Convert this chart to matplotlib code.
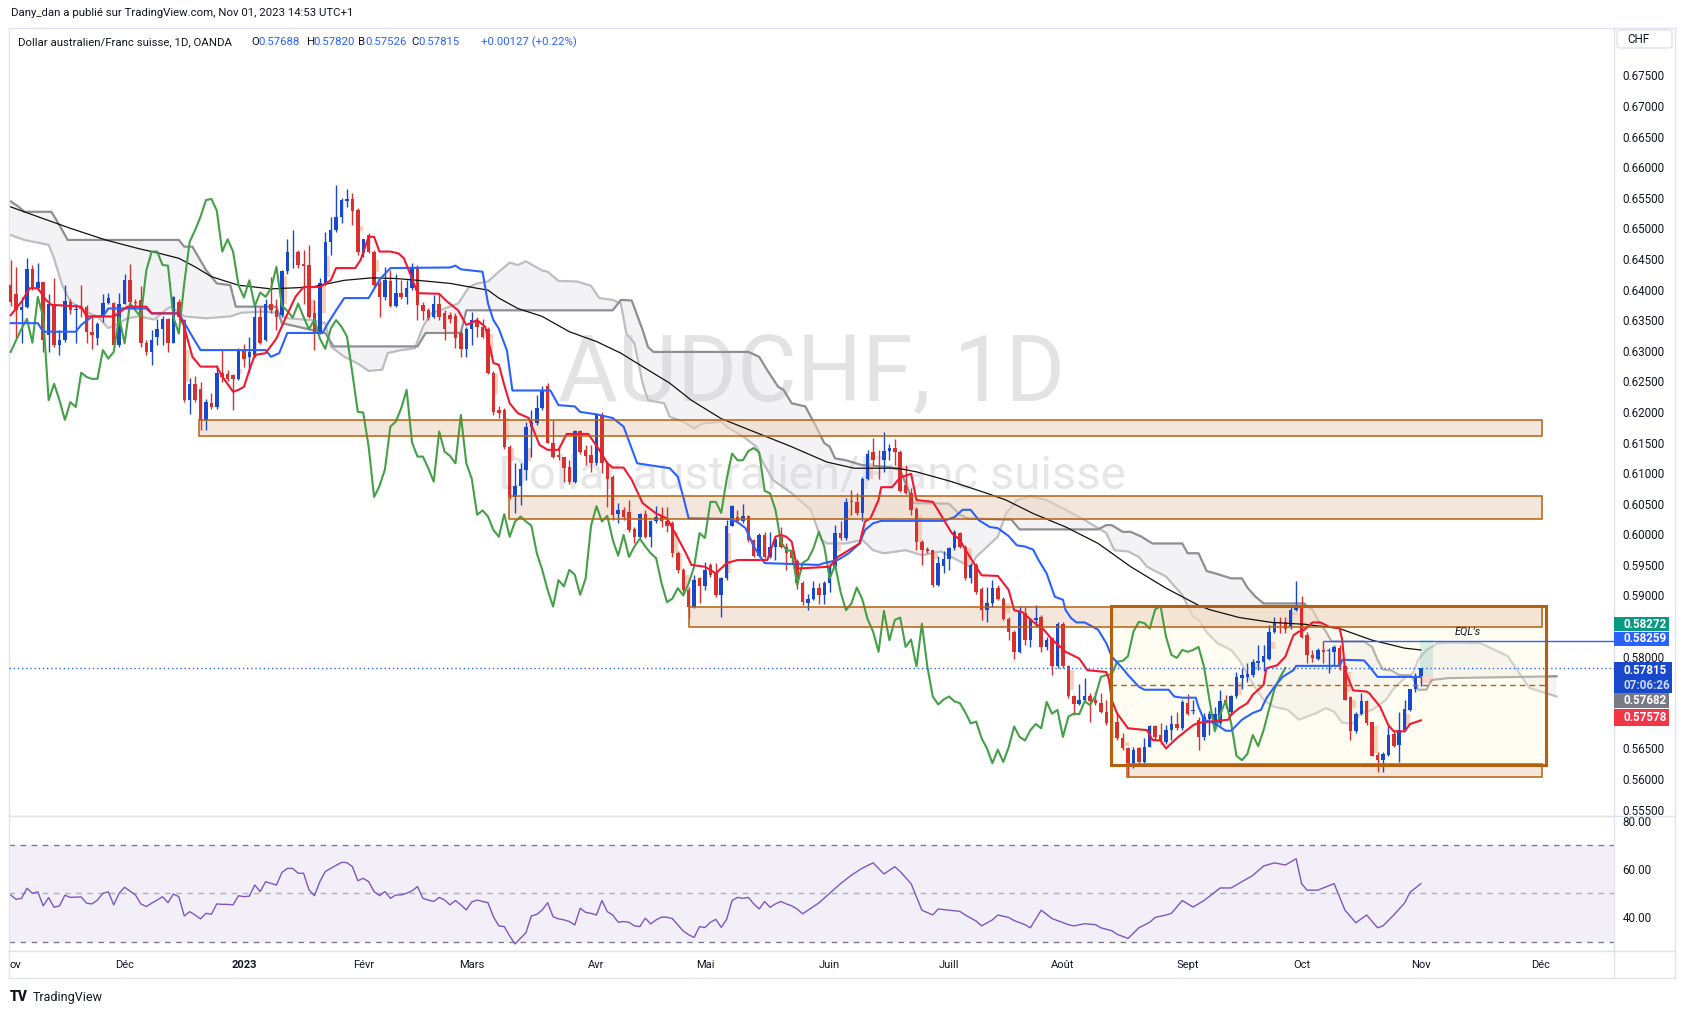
import matplotlib
matplotlib.use("Agg")
import matplotlib.pyplot as plt
from matplotlib.patches import Rectangle, FancyBboxPatch
from matplotlib.lines import Line2D
import numpy as np
import pandas as pd

W, H = 1687, 1015
plt.rcParams['font.family'] = ['Roboto', 'DejaVu Sans']

# ---- daily candles, 2 Nov 2022 .. 1 Nov 2023 (OANDA AUDCHF) ----
opens = [
    .6407, .6392, .6366, .6372, .6433, .6402, .6412, .6325, .6376, .6309,
    .6318, .6379, .6367, .6370, .6371, .6331, .6320, .6355, .6378, .6378,
    .6309, .6377, .6415, .6380, .6383, .6312, .6298, .6323, .6335, .6352,
    .6313, .6380, .6350, .6219, .6245, .6237, .6187, .6215, .6208, .6264,
    .6262, .6260, .6254, .6301, .6290, .6293, .6355, .6317, .6377, .6367,
    .6358, .6431, .6461, .6462, .6441, .6440, .6361, .6328, .6410, .6478,
    .6497, .6519, .6545, .6548, .6530, .6460, .6489, .6462, .6410, .6387,
    .6414, .6373, .6395, .6388, .6402, .6437, .6375, .6366, .6355, .6377,
    .6361, .6358, .6357, .6329, .6303, .6336, .6349, .6339, .6336, .6263,
    .6203, .6203, .6143, .6061, .6079, .6105, .6176, .6182, .6206, .6242,
    .6150, .6130, .6126, .6110, .6086, .6168, .6137, .6130, .6116, .6195,
    .6117, .6094, .6033, .6039, .6037, .6008, .5996, .6033, .5996, .6021,
    .6029, .6021, .6018, .5969, .5942, .5909, .5882, .5928, .5915, .5950,
    .5936, .5901, .5928, .6014, .6029, .6021, .6030, .5991, .5965, .5999,
    .5963, .5980, .5996, .5980, .5972, .5957, .5920, .5887, .5895, .5912,
    .5900, .5920, .5947, .6002, .5994, .6055, .6052, .6035, .6090, .6135,
    .6122, .6121, .6136, .6141, .6134, .6080, .6067, .6042, .5988, .5976,
    .5974, .5917, .5949, .5959, .5977, .6002, .5980, .5928, .5950, .5911,
    .5876, .5887, .5913, .5894, .5861, .5841, .5808, .5872, .5827, .5860,
    .5865, .5816, .5830, .5784, .5853, .5784, .5736, .5722, .5730, .5736,
    .5729, .5724, .5709, .5691, .5694, .5667, .5650, .5626, .5650, .5628,
    .5652, .5686, .5672, .5661, .5680, .5690, .5683, .5725, .5711, .5697,
    .5669, .5698, .5689, .5691, .5729, .5710, .5735, .5765, .5767, .5770,
    .5789, .5792, .5797, .5841, .5857, .5857, .5849, .5876, .5884, .5835,
    .5803, .5797, .5811, .5810, .5808, .5815, .5784, .5734, .5678, .5706,
    .5728, .5693, .5639, .5631, .5639, .5674, .5656, .5680, .5713, .5747,
    .57688]
highs = [
    .6448, .6436, .6388, .6452, .6440, .6444, .6413, .6393, .6418, .6334,
    .6407, .6385, .6377, .6407, .6374, .6355, .6347, .6393, .6394, .6380,
    .6394, .6425, .6441, .6385, .6405, .6317, .6334, .6352, .6357, .6354,
    .6389, .6385, .6352, .6255, .6259, .6249, .6221, .6231, .6276, .6301,
    .6268, .6262, .6304, .6311, .6323, .6374, .6372, .6385, .6420, .6385,
    .6432, .6482, .6497, .6465, .6465, .6473, .6383, .6419, .6494, .6519,
    .6571, .6549, .6565, .6558, .6533, .6483, .6492, .6465, .6415, .6437,
    .6432, .6425, .6415, .6415, .6443, .6440, .6380, .6369, .6391, .6393,
    .6366, .6364, .6361, .6334, .6339, .6363, .6355, .6352, .6339, .6267,
    .6210, .6206, .6146, .6116, .6116, .6184, .6203, .6228, .6242, .6247,
    .6187, .6142, .6127, .6121, .6170, .6170, .6146, .6146, .6198, .6200,
    .6119, .6097, .6051, .6045, .6056, .6012, .6035, .6040, .6024, .6047,
    .6045, .6045, .6021, .5972, .5945, .5914, .5934, .5931, .5955, .5953,
    .5953, .5931, .6024, .6048, .6040, .6049, .6032, .5993, .6002, .6003,
    .6004, .5996, .6012, .5985, .5974, .5959, .5923, .5903, .5924, .5921,
    .5923, .5953, .6015, .6021, .6059, .6073, .6067, .6094, .6138, .6157,
    .6138, .6167, .6148, .6155, .6138, .6113, .6075, .6045, .5991, .5980,
    .5975, .5964, .5972, .5980, .6007, .6004, .5983, .5953, .5953, .5914,
    .5914, .5925, .5917, .5898, .5865, .5844, .5883, .5882, .5863, .5884,
    .5868, .5833, .5833, .5857, .5856, .5786, .5737, .5756, .5765, .5740,
    .5743, .5740, .5729, .5707, .5710, .5675, .5653, .5653, .5653, .5667,
    .5688, .5688, .5691, .5688, .5705, .5710, .5729, .5739, .5729, .5702,
    .5708, .5712, .5718, .5746, .5737, .5737, .5775, .5781, .5789, .5797,
    .5819, .5819, .5852, .5865, .5865, .5865, .5882, .5923, .5899, .5841,
    .5811, .5814, .5825, .5814, .5819, .5819, .5786, .5736, .5709, .5740,
    .5729, .5694, .5645, .5645, .5686, .5680, .5710, .5729, .5748, .5773,
    .57820]
lows = [
    .6373, .6320, .6312, .6369, .6399, .6399, .6298, .6298, .6306, .6293,
    .6315, .6360, .6312, .6355, .6312, .6303, .6309, .6347, .6377, .6307,
    .6306, .6376, .6377, .6370, .6306, .6293, .6277, .6309, .6309, .6298,
    .6312, .6350, .6216, .6197, .6216, .6170, .6170, .6205, .6205, .6249,
    .6250, .6203, .6252, .6274, .6263, .6290, .6311, .6316, .6361, .6334,
    .6355, .6426, .6435, .6435, .6377, .6353, .6301, .6327, .6407, .6456,
    .6494, .6508, .6535, .6505, .6456, .6453, .6459, .6404, .6355, .6383,
    .6371, .6372, .6385, .6377, .6399, .6350, .6350, .6350, .6353, .6350,
    .6317, .6345, .6305, .6290, .6289, .6309, .6322, .6320, .6262, .6195,
    .6190, .6140, .6058, .6034, .6048, .6089, .6127, .6179, .6203, .6149,
    .6124, .6121, .6086, .6083, .6084, .6132, .6113, .6102, .6113, .6100,
    .6045, .6023, .6019, .6023, .6004, .5985, .5994, .5994, .5980, .6018,
    .6012, .6004, .5963, .5936, .5904, .5863, .5879, .5887, .5909, .5931,
    .5898, .5865, .5926, .6013, .6018, .6019, .5988, .5963, .5963, .5962,
    .5961, .5958, .5977, .5941, .5952, .5910, .5884, .5877, .5893, .5886,
    .5886, .5906, .5944, .5991, .5991, .6032, .6032, .6021, .6089, .6113,
    .6091, .6102, .6121, .6113, .6069, .6066, .6032, .5974, .5950, .5969,
    .5914, .5915, .5936, .5942, .5974, .5977, .5925, .5920, .5903, .5860,
    .5857, .5882, .5893, .5860, .5827, .5797, .5806, .5819, .5816, .5849,
    .5808, .5811, .5770, .5781, .5781, .5732, .5705, .5721, .5727, .5694,
    .5721, .5708, .5688, .5667, .5664, .5648, .5604, .5618, .5624, .5626,
    .5652, .5664, .5658, .5658, .5664, .5680, .5680, .5705, .5707, .5648,
    .5664, .5672, .5686, .5688, .5716, .5707, .5732, .5748, .5759, .5767,
    .5778, .5776, .5795, .5838, .5838, .5838, .5846, .5874, .5830, .5789,
    .5792, .5795, .5789, .5773, .5786, .5778, .5729, .5664, .5676, .5705,
    .5688, .5637, .5612, .5612, .5638, .5653, .5628, .5679, .5712, .5743,
    .57526]
closes = [
    .6380, .6366, .6372, .6433, .6402, .6412, .6317, .6376, .6309, .6318,
    .6381, .6366, .6368, .6368, .6330, .6326, .6344, .6378, .6386, .6309,
    .6377, .6415, .6380, .6378, .6312, .6298, .6317, .6336, .6352, .6313,
    .6388, .6355, .6219, .6246, .6219, .6187, .6216, .6208, .6264, .6257,
    .6254, .6254, .6301, .6287, .6298, .6355, .6312, .6377, .6366, .6355,
    .6431, .6462, .6462, .6440, .6439, .6355, .6328, .6410, .6478, .6497,
    .6519, .6546, .6548, .6529, .6462, .6482, .6462, .6407, .6387, .6415,
    .6373, .6395, .6388, .6402, .6437, .6374, .6365, .6354, .6377, .6355,
    .6335, .6351, .6320, .6303, .6336, .6350, .6339, .6323, .6263, .6200,
    .6199, .6143, .6061, .6079, .6106, .6176, .6184, .6206, .6236, .6150,
    .6127, .6127, .6108, .6086, .6168, .6135, .6128, .6116, .6195, .6116,
    .6091, .6032, .6039, .6029, .6007, .5996, .6033, .5996, .6021, .6029,
    .6021, .6014, .5969, .5942, .5909, .5882, .5925, .5915, .5942, .5934,
    .5901, .5928, .6014, .6046, .6021, .6030, .5991, .5965, .5999, .5963,
    .5980, .5993, .5980, .5969, .5961, .5920, .5889, .5895, .5912, .5900,
    .5920, .5947, .6002, .5994, .6053, .6053, .6035, .6090, .6132, .6121,
    .6121, .6136, .6141, .6134, .6071, .6067, .6040, .5988, .5974, .5973,
    .5917, .5953, .5959, .5977, .6004, .5980, .5928, .5950, .5906, .5876,
    .5887, .5913, .5894, .5861, .5841, .5808, .5875, .5827, .5860, .5864,
    .5816, .5828, .5784, .5854, .5784, .5735, .5722, .5730, .5735, .5727,
    .5724, .5709, .5691, .5694, .5667, .5650, .5626, .5648, .5628, .5652,
    .5686, .5669, .5663, .5680, .5690, .5683, .5726, .5707, .5713, .5669,
    .5702, .5707, .5706, .5727, .5721, .5736, .5767, .5770, .5771, .5792,
    .5793, .5801, .5841, .5857, .5855, .5846, .5877, .5883, .5833, .5803,
    .5798, .5811, .5808, .5811, .5816, .5784, .5730, .5678, .5706, .5728,
    .5692, .5638, .5631, .5641, .5672, .5654, .5680, .5714, .5747, .5766,
    .57815]

# ---- indicator lines: (bar, value) ----
tenkan = [(0, .6358), (2, .6380), (3.5, .6402), (5, .6402), (6.5, .6383), (7.5, .6375), (13, .6372),
          (14, .6356), (19, .6356), (21.5, .6372), (25, .6372), (26, .6361), (31, .6361), (32, .6339),
          (33.5, .6290), (35, .6274), (38, .6274), (39, .6258), (41, .6233), (42, .6236), (43, .6241),
          (44, .6268), (45, .6293), (47, .6296), (49, .6320), (50.5, .6350), (52.5, .6388), (54, .6404),
          (57, .6404), (59, .6415), (60, .6435), (63.5, .6435), (64.5, .6448), (66, .6486), (67, .6486),
          (68, .6462), (70, .6462), (71.5, .6459), (72.5, .6451), (74, .6418), (75, .6394), (79, .6393),
          (80.5, .6380), (82.5, .6366), (84, .6342), (86, .6350), (87.5, .6339), (88, .6320), (89, .6280),
          (90, .6277), (91, .6244), (92, .6214), (93.5, .6198), (95.5, .6190), (97.5, .6146), (99, .6138),
          (101, .6138), (102.5, .6164), (106.5, .6164), (108.5, .6138), (110, .6116), (111, .6109),
          (113, .6109), (114.5, .6089), (116.5, .6051), (119, .6034), (121, .6026), (122.5, .6002),
          (124.5, .5969), (125.5, .5950), (128, .5947), (130, .5936), (132, .5953), (134, .5958),
          (139.5, .5958), (141, .5996), (142, .5999), (143, .5996), (144, .5988), (145, .5944),
          (151, .5947), (152.5, .5963), (154.5, .5974), (156.5, .5985), (157.5, .6021), (158.5, .6026),
          (160, .6056), (160.5, .6077), (162.5, .6077), (164, .6093), (166, .6099), (167, .6056),
          (170, .6053), (171, .6039), (173.5, .6002), (175, .5991), (176, .5975), (178, .5947),
          (179, .5933), (182, .5932), (184, .5909), (185, .5876), (186.5, .5873), (188.5, .5857),
          (190.5, .5844), (192, .5828), (194.5, .5808), (197, .5797), (198.5, .5778), (202, .5775),
          (202.5, .5762), (203, .5729), (204, .5707), (206, .5683), (209.5, .5680), (210.5, .5664),
          (212, .5663), (213, .5650), (215, .5667), (218, .5688), (219, .5692), (224.5, .5697),
          (225, .5705), (226.5, .5716), (228, .5724), (229, .5738), (231, .5754), (231.5, .5781),
          (233.5, .5786), (235, .5800), (236.5, .5835), (237.5, .5841), (238.5, .5844), (240, .5856),
          (241.5, .5856), (243, .5849), (245, .5847), (245.5, .5827), (246, .5778), (247.5, .5745),
          (250, .5743), (250.5, .5740), (252.5, .5718), (254, .5688), (255, .5678), (257, .5678),
          (258, .5690), (260, .5696)]
kijun = [(0, .6345), (5, .6345), (6, .6331), (12, .6331), (13, .6342), (15, .6356), (17, .6356),
         (18, .6369), (25, .6369), (26, .6361), (31, .6361), (33.5, .6323), (35, .6301), (47, .6301),
         (48, .6290), (49.5, .6296), (51, .6329), (57.5, .6329), (58.5, .6345), (60, .6366),
         (61.5, .6386), (66, .6386), (68, .6416), (70, .6435), (81, .6436), (82, .6439), (83, .6433),
         (87, .6429), (88, .6377), (89, .6350), (90, .6336), (91.5, .6300), (92.5, .6235), (99.5, .6235),
         (101, .6211), (104, .6209), (105, .6200), (108, .6196), (111, .6190), (113, .6176),
         (114.5, .6140), (115.5, .6116), (121.5, .6108), (123, .6094), (124, .6061), (125, .6026),
         (132.5, .6025), (134, .6020), (135.5, .6010), (137, .5980), (139, .5953), (149, .5950),
         (150, .5953), (152.5, .5958), (154.5, .5969), (156.5, .5985), (157.5, .6007), (159, .6018),
         (160.5, .6022), (172, .6022), (174, .6028), (175.5, .6040), (177, .6040), (178.5, .6023),
         (180.5, .6012), (182, .6010), (184, .5997), (185.5, .5982), (187, .5980), (188.5, .5975),
         (189.5, .5958), (191, .5936), (192.5, .5898), (194, .5893), (194.5, .5876), (195.5, .5863),
         (196.5, .5856), (198, .5856), (199.5, .5849), (200.5, .5844), (202, .5822), (203, .5800),
         (205, .5781), (206, .5770), (208, .5751), (209, .5746), (213.5, .5746), (214.5, .5735),
         (216, .5733), (218.5, .5733), (219, .5718), (220, .5697), (222, .5691), (224, .5679),
         (225, .5679), (227, .5697), (229, .5708), (230.5, .5713), (231.5, .5732), (233, .5751),
         (234.5, .5767), (236.5, .5778), (237, .5785), (245, .5785), (245.5, .5795), (249.5, .5794),
         (250.5, .5784), (252, .5767), (260, .5767)]
sma200 = [(0, .6535), (5, .6519), (11, .6500), (17.5, .6481), (23.5, .6467), (27, .6460), (31, .6451),
          (34, .6437), (37, .6421), (42, .6407), (48, .6401), (55.5, .6404), (61.5, .6415), (66.5, .6419),
          (71, .6418), (75, .6415), (81, .6410), (86, .6402), (88, .6399), (90, .6386), (93.5, .6369),
          (98, .6356), (103, .6331), (108, .6315), (112.5, .6296), (116.5, .6274), (121.5, .6247),
          (125.5, .6219), (131, .6189), (137.5, .6166), (144, .6143), (150.5, .6118), (155.5, .6108),
          (163.5, .6108), (167, .6102), (173.5, .6086), (180, .6067), (183.5, .6056), (188.5, .6034),
          (194.5, .6012), (200.5, .5985), (206.5, .5947), (213, .5912), (219, .5884), (221, .5877),
          (226.5, .5864), (232.5, .5856), (238.5, .5853), (245, .5846), (251, .5827), (257, .5814),
          (260, .5811)]
span_a = [(0, .6489), (2.5, .6481), (7, .6473), (8, .6451), (9.5, .6407), (11, .6380), (14.5, .6361),
          (16, .6356), (18, .6337), (20, .6345), (21.5, .6353), (23.5, .6356), (26.5, .6351), (28.5, .6366),
          (29.5, .6372), (32, .6356), (36, .6353), (40.5, .6356), (42.5, .6362), (47, .6364), (49.5, .6361),
          (51, .6353), (55.5, .6350), (58, .6345), (59, .6307), (61.5, .6290), (64, .6279), (66, .6267),
          (68.5, .6269), (69.5, .6296), (72, .6301), (74.5, .6304), (76, .6339), (77.5, .6361),
          (82.5, .6377), (84.5, .6404), (86, .6410), (88, .6413), (90, .6429), (92, .6444), (93.5, .6440),
          (95, .6446), (98, .6431), (99, .6429), (101, .6414), (104.5, .6413), (107, .6406),
          (108.5, .6386), (111, .6383), (112.5, .6377), (113.5, .6328), (115, .6312), (116.5, .6247),
          (117.5, .6219), (120.5, .6214), (121.5, .6192), (124, .6184), (126, .6173), (127.5, .6181),
          (131, .6184), (132, .6176), (135, .6160), (137.5, .6143), (138.5, .6121), (140.5, .6089),
          (144, .6067), (147.5, .6040), (149.5, .5991), (150.5, .5985), (154, .5985), (157, .5991),
          (159, .5974), (161, .5969), (165, .5974), (168, .5966), (171.5, .5972), (174.5, .5958),
          (177, .5947), (178, .5963), (182, .5996), (183.5, .6034), (185.5, .6056), (188, .6062),
          (191, .6056), (194.5, .6040), (197.5, .6026), (202, .6002), (203.5, .5974), (206, .5972),
          (208, .5963), (209.5, .5947), (213, .5931), (216, .5901), (218, .5865), (219, .5860),
          (220.5, .5840), (222.5, .5822), (225, .5811), (226.5, .5795), (229, .5756), (231, .5729),
          (233, .5718), (235.5, .5713), (237.5, .5697), (240.5, .5707), (242.5, .5716), (244, .5710),
          (245.5, .5692), (247.5, .5691), (249, .5708), (251, .5713), (253.5, .5729), (255, .5748),
          (257, .5765), (258.5, .5773), (259.5, .5795), (261, .5811), (262, .5816), (263, .5822),
          (266, .5823), (271, .5822), (276, .5801), (280, .5749), (285, .5735)]
span_b = [(0, .6544), (1.5, .6535), (2.5, .6527), (7.5, .6527), (9, .6505), (10.5, .6481), (31, .6481),
          (32, .6470), (33.5, .6470), (36, .6432), (38, .6410), (40.5, .6407), (41.5, .6372), (49, .6372),
          (50, .6345), (58, .6329), (59.5, .6307), (75, .6307), (76.5, .6329), (83, .6329), (84, .6366),
          (111, .6366), (112.5, .6383), (114.5, .6382), (116.5, .6334), (117.5, .6306), (118.5, .6298),
          (136, .6298), (138, .6290), (139.5, .6268), (141.5, .6241), (142.5, .6236), (144, .6214),
          (146.5, .6209), (148.5, .6176), (150, .6149), (151, .6143), (152, .6124), (154, .6121),
          (157, .6113), (162, .6110), (164, .6105), (165, .6083), (166.5, .6051), (173, .6050),
          (175, .6032), (176.5, .6026), (184.5, .6024), (186, .6008), (200.5, .6008), (202, .6015),
          (203, .6015), (205, .6004), (206.5, .6004), (208.5, .5996), (210.5, .5985), (216, .5985),
          (217, .5969), (219, .5969), (220.5, .5940), (222.5, .5935), (225, .5928), (227, .5928),
          (228, .5913), (229.5, .5898), (231, .5887), (238.5, .5887), (239, .5882), (240, .5877),
          (241, .5860), (242.5, .5841), (243.5, .5825), (249.5, .5825), (251, .5816), (252, .5795),
          (253, .5779), (254.5, .5778), (256, .5770), (258, .5770), (258.5, .5765), (259.5, .5746),
          (261, .5746), (262, .5762), (265, .5765), (285, .5768)]
chikou_shift = 25

# RSI(14)
rsi = [(0, 49.3), (1, 47.5), (2, 47.9), (3, 52.1), (4, 50.0), (5, 50.6), (6, 44.8), (7, 48.2), (8, 44.2),
       (9, 44.8), (10, 49.2), (11, 48.3), (13, 48.5), (14, 45.9), (15, 45.6), (16, 47.2), (17, 50.0),
       (18, 50.6), (19, 45.2), (20, 50.0), (21, 52.5), (23, 49.3), (24, 45.6), (25, 44.5), (26, 45.9),
       (27, 47.2), (28, 48.6), (29, 46.1), (30, 49.7), (31, 48.6), (32, 40.6), (33, 42.4), (34, 41.0),
       (35, 39.4), (36, 41.7), (37, 41.3), (38, 45.6), (39, 45.4), (40, 45.4), (41, 45.2), (42, 49.0),
       (43, 48.6), (44, 48.8), (45, 53.4), (46, 50.7), (47, 54.8), (48, 54.1), (49, 53.4), (50, 58.6),
       (51, 60.3), (52, 60.3), (53, 58.3), (54, 58.3), (55, 51.4), (56, 49.0), (57, 54.8), (58, 59.0),
       (59, 60.3), (61, 62.8), (62, 62.7), (63, 61.0), (64, 55.2), (65, 56.2), (66, 54.8), (67, 50.7),
       (68, 49.0), (69, 50.7), (70, 47.9), (71, 49.3), (72, 49.3), (73, 50.0), (74, 51.0), (75, 52.8),
       (76, 47.9), (77, 47.2), (78, 46.6), (79, 48.3), (80, 47.2), (81, 45.2), (82, 47.0), (83, 45.2),
       (84, 43.1), (85, 46.4), (86, 47.2), (87, 46.6), (88, 46.1), (89, 40.3), (90, 36.5), (91, 36.2),
       (92, 32.3), (93, 29.0), (94, 31.4), (95, 33.7), (96, 40.6), (97, 41.3), (98, 43.1), (99, 46.1),
       (100, 40.3), (101, 39.4), (102, 39.0), (103, 38.3), (104, 36.9), (105, 43.8), (106, 42.1),
       (107, 41.7), (108, 41.0), (109, 47.0), (110, 42.4), (111, 41.0), (112, 38.0), (113, 38.3),
       (114, 38.0), (115, 36.5), (116, 36.2), (117, 39.7), (118, 37.3), (119, 39.0), (120, 40.1),
       (121, 40.1), (122, 39.5), (123, 36.9), (124, 34.4), (125, 32.8), (126, 31.7), (127, 36.2),
       (128, 35.8), (129, 38.0), (130, 39.2), (131, 35.9), (132, 39.2), (133, 47.0), (134, 48.3),
       (135, 47.9), (136, 48.3), (137, 45.6), (138, 43.5), (139, 46.6), (140, 44.2), (141, 45.6),
       (142, 46.6), (143, 45.6), (144, 44.8), (145, 43.5), (146, 41.5), (149, 46.0), (151, 50.0),
       (153, 54.0), (155, 57.5), (157, 60.4), (159, 62.6), (161, 58.0), (163, 61.0), (164, 59.0),
       (166, 54.0), (168, 43.0), (170, 41.0), (171, 43.5), (173, 43.0), (175, 42.5), (176, 41.0),
       (178, 38.5), (179, 36.5), (181, 39.0), (182, 41.0), (184, 40.0), (185, 38.7), (187, 37.0),
       (188, 35.7), (190, 43.0), (192, 39.5), (193, 38.7), (195, 37.0), (196, 36.5), (198, 37.4),
       (200, 37.0), (201, 35.7), (203, 34.5), (204, 33.0), (206, 31.3), (208, 35.7), (210, 38.0),
       (211, 40.0), (213, 41.0), (214, 41.7), (216, 47.0), (218, 44.3), (220, 47.0), (221, 48.7),
       (223, 52.2), (225, 52.2), (227, 54.8), (229, 57.4), (231, 61.3), (233, 62.6), (235, 61.7),
       (237, 64.3), (238, 54.0), (239, 51.3), (241, 51.3), (244, 54.0), (246, 43.0), (248, 37.8),
       (250, 41.0), (252, 35.7), (253, 36.5), (255, 41.0), (257, 46.0), (258, 50.4), (260, 54.0)]

# drawn zones: (left bar, right bar, low, high)
zones = [(34.7, 282.3, .6160, .6187), (91.9, 282.3, .6025, .6063),
         (125.0, 282.3, .5848, .5882), (205.9, 282.3, .5603, .5624)]
range_box = (202.9, 283.0, .5623, .5883)
range_mid = .5754
eql_level, eql_start = .58259, 242
# imbalance marks: (bar, low, high)
imbalances = [(32.1, .6249, .6301), (41.8, .6262, .6270), (50.1, .6377, .6422), (55.2, .6361, .6383),
              (57.3, .6362, .6410), (58.1, .6420, .6455), (64.1, .6495, .6504), (67.1, .6429, .6449),
              (88.0, .6290, .6328), (89.0, .6230, .6263), (91.1, .6154, .6190), (92.0, .6119, .6141),
              (95.1, .6119, .6141), (122.2, .5969, .6004), (123.0, .5942, .5969), (124.2, .5909, .5934),
              (132.0, .5936, .6002), (152.3, .5972, .5988), (154.1, .6023, .6042), (158.1, .6091, .6116),
              (164.3, .6105, .6112), (167.2, .5988, .6032), (170.1, .5959, .5969), (176.3, .5952, .5977),
              (183.3, .5871, .5887), (195.2, .5746, .5778), (205.4, .5654, .5661), (226.2, .5738, .5759),
              (229.3, .5781, .5788), (232.2, .5812, .5824), (236.3, .5868, .5872), (238.3, .5846, .5857),
              (238.9, .5827, .5832), (246.3, .5743, .5775), (247.1, .5716, .5729), (251.3, .5642, .5686),
              (257.1, .5688, .5706)]
# long position tool: target, entry, stop
pos_target, pos_entry, pos_stop = 0.58272, 0.57682, 0.57578
pos_span = (259.9, 262.2)
last_price = 0.57815
countdown = "07:06:26"

month_names = {2: 'Févr', 3: 'Mars', 4: 'Avr', 5: 'Mai', 6: 'Juin', 7: 'Juill',
               8: 'Août', 9: 'Sept', 10: 'Oct', 11: 'Nov', 12: 'Déc'}

UP, DOWN = '#1848cc', '#d8302f'
TXT, GRID = '#131722', '#e0e3eb'
BROWN = '#b4600f'


def fbox(x0, y0, x1, y1):
    return [x0 / W, 1 - y1 / H, (x1 - x0) / W, (y1 - y0) / H]


fig = plt.figure(figsize=(W / 100, H / 100), dpi=100)
ax = fig.add_axes(fbox(9, 28, 1614, 816))
ax_rsi = fig.add_axes(fbox(9, 816, 1614, 951))
ax_t = fig.add_axes(fbox(9, 951, 1614, 978))

xlim = (-0.31, 295.6)
for a in (ax, ax_rsi, ax_t):
    a.set_xlim(*xlim)
    a.set_xticks([])
    for s in a.spines.values():
        s.set_color(GRID)
        s.set_linewidth(1)
ax.set_ylim(0.55397, 0.68273)
ax_rsi.set_ylim(26.1, 82.0)
ax_t.set_ylim(0, 1)
ax_t.set_yticks([])

# watermark
ax.text(0.5003, 0.558, 'AUDCHF, 1D', transform=ax.transAxes, fontsize=66, color='#e3e3e6',
        ha='center', va='center', zorder=0)
ax.text(0.5003, 0.431, 'Dollar australien/Franc suisse', transform=ax.transAxes, fontsize=34,
        color='#e6e6e9', ha='center', va='center', zorder=0)

bars = np.arange(len(closes))
o, h, l, c = (np.array(v) for v in (opens, highs, lows, closes))

# ichimoku cloud
ax_, ay_ = zip(*span_a)
bx_, by_ = zip(*span_b)
ax.fill(np.r_[ax_, bx_[::-1]], np.r_[ay_, by_[::-1]], color='#c9cad6', alpha=0.22, lw=0, zorder=1)
ax.plot(ax_, ay_, color='#bdbdc2', lw=1.6, zorder=1.3)
ax.plot(bx_, by_, color='#8e8e93', lw=1.6, zorder=1.3)

# zones
for x0, x1, lo, hi in zones:
    ax.add_patch(Rectangle((x0, lo), x1 - x0, hi - lo, facecolor='#ecd3bd', alpha=0.55,
                           edgecolor='none', zorder=1.4))
    ax.add_patch(Rectangle((x0, lo), x1 - x0, hi - lo, facecolor='none', edgecolor=BROWN,
                           lw=1.1, zorder=5))
bx0, bx1, blo, bhi = range_box
ax.add_patch(Rectangle((bx0, blo), bx1 - bx0, bhi - blo, facecolor='#fff8d8', alpha=0.35,
                       edgecolor='none', zorder=1.35))
ax.add_patch(Rectangle((bx0, blo), bx1 - bx0, bhi - blo, facecolor='none', edgecolor=BROWN,
                       lw=2.2, zorder=5))
ax.hlines(range_mid, bx0, bx1, colors=BROWN, lw=1, linestyles=(0, (4, 3)), zorder=5)

for x0, lo, hi in imbalances:
    ax.add_patch(Rectangle((x0, lo), 0.85, hi - lo, facecolor='#f6c1a4', alpha=0.75,
                           edgecolor='none', zorder=1.6))

# candles
col = np.where(c >= o, UP, DOWN)
ax.vlines(bars, l, h, colors=col, lw=1, zorder=3)
ax.bar(bars, np.maximum(np.abs(c - o), 0.00004), bottom=np.minimum(o, c), width=0.64,
       color=col, lw=0, zorder=3)

# lines
ax.plot(*zip(*sma200), color='#111111', lw=0.9, zorder=4)
ax.plot(bars[chikou_shift:] - chikou_shift, c[chikou_shift:], color='#43a047', lw=1.5, zorder=4)
ax.plot(*zip(*kijun), color='#2962ff', lw=1.5, zorder=4)
ax.plot(*zip(*tenkan), color='#f2182f', lw=1.5, zorder=4.1)

# drawings
ax.hlines(eql_level, eql_start, xlim[1], colors='#2962ff', lw=1, zorder=5)
ax.text(268.7, eql_level + 0.0006, "EQL's", fontsize=7.8, style='italic', color=TXT,
        ha='center', va='bottom', zorder=6)
ax.axhline(last_price, color='#2962ff', lw=1, ls=(0, (1, 2)), zorder=5)
ax.add_patch(Rectangle((pos_span[0], pos_entry), pos_span[1] - pos_span[0], pos_target - pos_entry,
                       facecolor='#089981', alpha=0.14, edgecolor='none', zorder=5))
ax.add_patch(Rectangle((pos_span[0], pos_stop), pos_span[1] - pos_span[0], pos_entry - pos_stop,
                       facecolor='#f23645', alpha=0.14, edgecolor='none', zorder=5))

# price scale
ticks = [round(0.555 + 0.005 * k, 3) for k in range(25)]
ticks = [t for t in ticks if t not in (0.585, 0.575, 0.57)]
ax.yaxis.tick_right()
ax.set_yticks(ticks)
ax.set_yticklabels([f'{t:.5f}' for t in ticks])
ax.tick_params(axis='y', length=0, pad=6, labelsize=8.4, labelcolor=TXT)

# RSI pane
rx, ry = zip(*rsi)
ax_rsi.axhspan(30, 70, color='#7e57c2', alpha=0.09, lw=0)
for lvl, al in ((70, 1.0), (50, 0.55), (30, 1.0)):
    ax_rsi.axhline(lvl, color='#787b86', lw=1, ls=(0, (4, 4)), alpha=al)
ax_rsi.plot(rx, ry, color='#7e57c2', lw=1)
ax_rsi.yaxis.tick_right()
ax_rsi.set_yticks([40, 60, 80])
ax_rsi.set_yticklabels(['40.00', '60.00', '80.00'])
ax_rsi.tick_params(axis='y', length=0, pad=6, labelsize=8.4, labelcolor=TXT)

# time scale
days = pd.bdate_range('2022-11-01', '2023-12-29')
firsts = np.r_[True, days.month[1:] != days.month[:-1]]
for k in np.flatnonzero(firsts):
    d = days[k]
    if k == 0:
        # the November 2022 label is cut by the left edge of the chart
        ax_t.text(0.0005, 0.5, 'ov', transform=ax_t.transAxes, ha='left', va='center',
                  fontsize=8, color=TXT)
        continue
    lab = str(d.year) if d.month == 1 else month_names[d.month]
    ax_t.text(k - 1, 0.5, lab, ha='center', va='center', fontsize=8, color=TXT,
              weight='bold' if d.month == 1 else 'normal')

# frame of price scale column
for (x0, y0, x1, y1) in [(1675, 28, 1675, 978), (1614, 28, 1675, 28), (1614, 978, 1675, 978),
                         (1614, 816, 1675, 816), (1614, 951, 1675, 951)]:
    fig.add_artist(Line2D([x0 / W, x1 / W], [1 - y0 / H, 1 - y1 / H], color=GRID, lw=1))
fig.add_artist(FancyBboxPatch((1617 / W, 1 - 48 / H), 55 / W, 18 / H,
                              boxstyle='round,pad=0,rounding_size=0.002', fc='white', ec=GRID, lw=1))
fig.text(1627 / W, 1 - 39.5 / H, 'CHF', fontsize=8.4, color=TXT, va='center')

# coloured price tags
tags = [(pos_target, '#089981', 16, 14), (eql_level, '#2962ff', 2.3, 14),
        (last_price, '#1848cc', -9.5, 31), (pos_entry, '#787b86', -24.5, 15),
        (pos_stop, '#f23645', -35, 17)]
fig.canvas.draw()
for val, colr, shift, hh in tags:
    yc = ax.transData.transform((0, val))[1] + shift
    fig.add_artist(Rectangle((1614 / W, (yc - hh / 2) / H), (1672 - 1614) / W if hh > 20 else 55 / W,
                             hh / H, transform=fig.transFigure, color=colr, lw=0))
    if hh > 20:
        fig.text(1624 / W, (yc + 7) / H, f'{val:.5f}', color='white', fontsize=8.4, weight='bold',
                 va='center')
        fig.text(1624 / W, (yc - 7.5) / H, countdown, color='#cfd9f7', fontsize=8.4, weight='bold',
                 va='center')
    else:
        fig.text(1624 / W, yc / H, f'{val:.5f}', color='white', fontsize=8.4, weight='bold',
                 va='center')

# header
fig.text(11 / W, 1 - 13 / H, 'Dany_dan a publié sur TradingView.com, Nov 01, 2023 14:53 UTC+1',
         fontsize=8.2, color=TXT, va='center')
legend_y = 1 - 42 / H
fig.text(18 / W, legend_y, 'Dollar australien/Franc suisse, 1D, OANDA', fontsize=8.2, color=TXT,
         va='center')
ohlc_vals = [('O', opens[-1], 251), ('H', highs[-1], 306.5), ('B', lows[-1], 358), ('C', closes[-1], 411.6)]
for letter, v, xp in ohlc_vals:
    fig.text(xp / W, legend_y, letter, fontsize=8.2, color=TXT, va='center')
    fig.text((xp + 7) / W, legend_y, f'{v:.5f}', fontsize=8.2, color='#2962ff', va='center')
chg = closes[-1] - opens[-1]
fig.text(480.7 / W, legend_y, f'+{chg:.5f} (+{chg / opens[-1] * 100:.2f}%)', fontsize=8.2,
         color='#2962ff', va='center')

# footer logo
fig.text(10 / W, 1 - 997 / H, 'TV', fontsize=10, weight='heavy', color='#131722', va='center')
fig.text(33 / W, 1 - 997 / H, 'TradingView', fontsize=9, color='#131722', va='center')

fig.savefig('out.png', dpi=100, facecolor='white')
